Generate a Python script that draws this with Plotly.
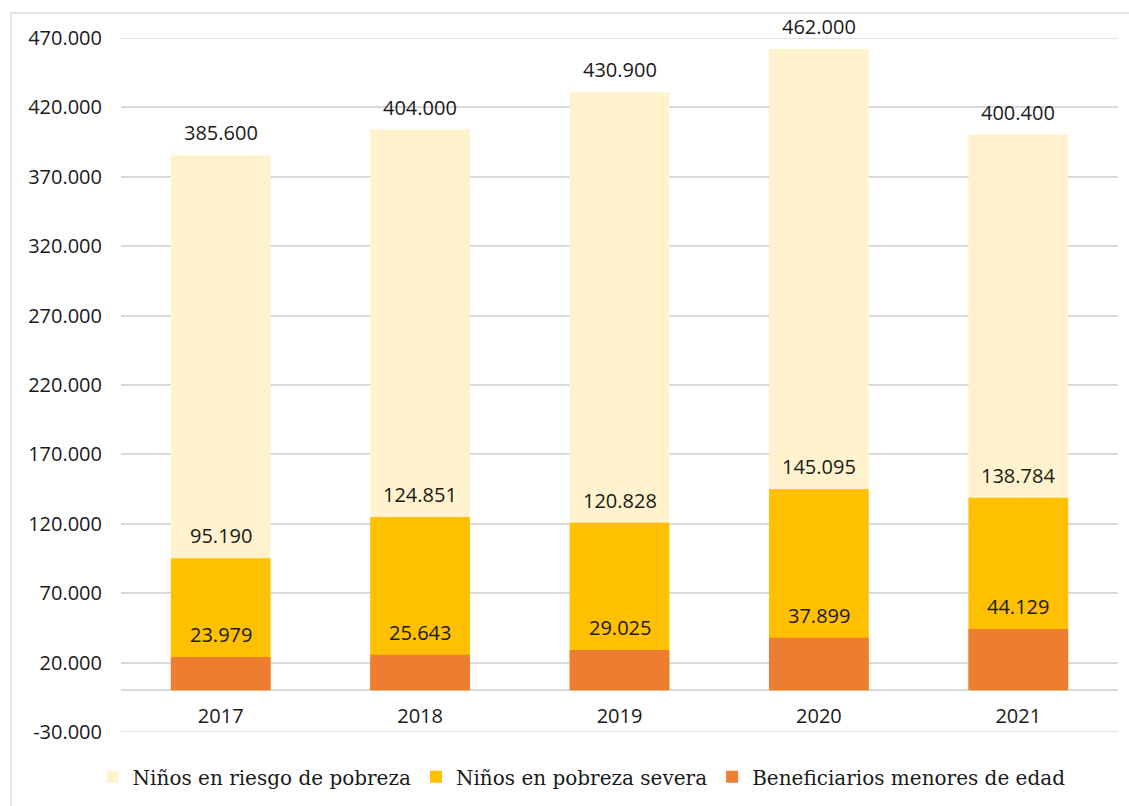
import plotly.graph_objects as go

years = ["2017", "2018", "2019", "2020", "2021"]
riesgo = [385600, 404000, 430900, 462000, 400400]
severa = [95190, 124851, 120828, 145095, 138784]
beneficiarios = [23979, 25643, 29025, 37899, 44129]

series_names = ["Niños en riesgo de pobreza", "Niños en pobreza severa", "Beneficiarios menores de edad"]
colors = ["#FFF2CC", "#FFC000", "#ED7D31"]

tick_vals = [-30000, 20000, 70000, 120000, 170000, 220000, 270000, 320000, 370000, 420000, 470000]


def fmt(v):
    s = f"{abs(v):,}".replace(",", ".")
    return ("-" if v < 0 else "") + s


tick_text = [fmt(v) for v in tick_vals]

SANS = "Open Sans, Noto Sans, sans-serif"
SERIF = "DejaVu Serif, serif"
GRID = "#d9d9d9"

fig = go.Figure()
for name, vals, col in zip(series_names, [riesgo, severa, beneficiarios], colors):
    fig.add_trace(go.Bar(
        x=years, y=vals, name=name, marker=dict(color=col, line=dict(width=0)),
        width=0.5, hoverinfo="skip",
    ))
    for i, yv in enumerate(vals):
        fig.add_annotation(
            x=i, y=yv, xref="x", yref="y", text=fmt(yv), showarrow=False,
            yanchor="bottom", yshift=7,
            font=dict(family=SANS, size=20, color="#1a1a1a"),
        )

# edge gridlines (plotly drops gridlines that coincide with the plot edges)
shapes = [dict(
    type="line", xref="paper", yref="y", x0=0, x1=1, y0=tv, y1=tv,
    line=dict(color=GRID, width=1.5), layer="below",
) for tv in (tick_vals[0], tick_vals[-1])]
shapes.append(dict(
    type="rect", xref="paper", yref="paper",
    x0=(11 - 121) / 997, x1=1.2, y0=-0.5, y1=(733 - 13) / 695,
    line=dict(color=GRID, width=1.5), fillcolor="rgba(0,0,0,0)", layer="below",
))

fig.update_layout(
    barmode="overlay",
    width=1129, height=806,
    margin=dict(l=121, r=11, t=38, b=73),
    paper_bgcolor="white", plot_bgcolor="white",
    showlegend=True,
    legend=dict(
        orientation="h", x=0.462, xanchor="center", y=-0.063, yanchor="middle",
        font=dict(family=SERIF, size=20, color="#1a1a1a"),
        itemwidth=30, traceorder="normal", bgcolor="rgba(0,0,0,0)",
    ),
    xaxis=dict(
        type="category", categoryorder="array", categoryarray=years,
        range=[-0.5, len(years) - 0.5], autorange=False,
        anchor="free", position=30000 / 500000,
        showgrid=False, showline=False, zeroline=False, ticks="",
        tickfont=dict(family=SANS, size=20, color="#1a1a1a"),
        ticklabelstandoff=12,
    ),
    yaxis=dict(
        range=[-30000, 470000], autorange=False,
        tickvals=tick_vals, ticktext=tick_text,
        showgrid=True, gridcolor=GRID, gridwidth=1.5,
        zeroline=True, zerolinecolor=GRID, zerolinewidth=1.5,
        showline=False, ticks="",
        tickfont=dict(family=SANS, size=20, color="#1a1a1a"),
        ticklabelstandoff=18,
    ),
    shapes=shapes,
)

fig.write_html("out.html")
